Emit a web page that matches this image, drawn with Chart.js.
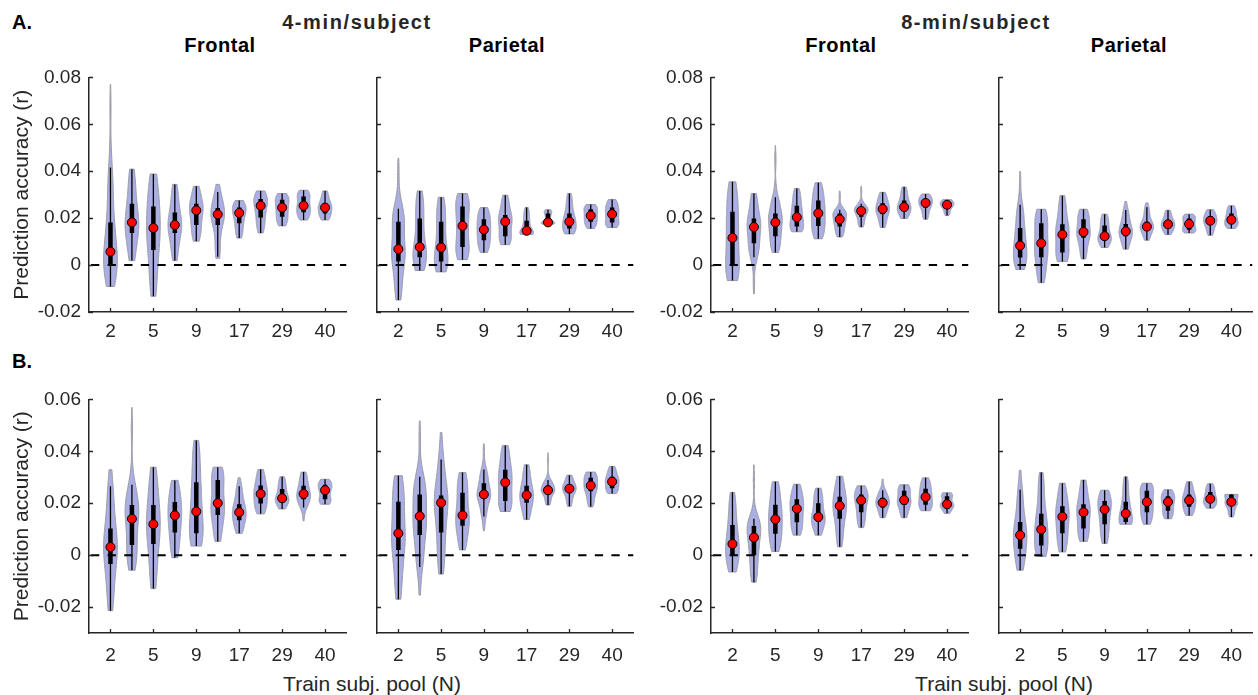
<!DOCTYPE html>
<html>
<head>
<meta charset="utf-8">
<script src="https://cdn.jsdelivr.net/npm/chart.js@4.4.1/dist/chart.umd.min.js"></script>
<style>
  html, body { margin: 0; padding: 0; background: #fff; overflow: hidden; }
  body { position: relative; width: 1258px; height: 695px; font-family: "Liberation Sans", Arial, sans-serif; color: #000; }
  canvas { position: absolute; }
  .lbl { position: absolute; white-space: nowrap; line-height: 1; }
  .panel-letter { font-size: 20px; font-weight: bold; }
  .group { font-size: 20px; font-weight: bold; letter-spacing: 1.6px; transform: translateX(-50%); color: #262626; }
  .region { font-size: 20px; font-weight: bold; letter-spacing: 0.5px; transform: translateX(-50%); }
  .xtitle { font-size: 21px; color: #262626; transform: translateX(-50%); }
</style>
</head>
<body>

<div class="lbl panel-letter" style="left:12px; top:12px;">A.</div>
<div class="lbl panel-letter" style="left:12px; top:351px;">B.</div>
<div class="lbl group" style="left:357px; top:12px;">4-min/subject</div>
<div class="lbl group" style="left:976px; top:12px;">8-min/subject</div>
<div class="lbl region" style="left:220px; top:35px;">Frontal</div>
<div class="lbl region" style="left:507px; top:35px;">Parietal</div>
<div class="lbl region" style="left:841px; top:35px;">Frontal</div>
<div class="lbl region" style="left:1129px; top:35px;">Parietal</div>
<div class="lbl xtitle" style="left:372px; top:673px;">Train subj. pool (N)</div>
<div class="lbl xtitle" style="left:1004px; top:673px;">Train subj. pool (N)</div>

<canvas id="a1"></canvas>
<canvas id="a2"></canvas>
<canvas id="a3"></canvas>
<canvas id="a4"></canvas>
<canvas id="b1"></canvas>
<canvas id="b2"></canvas>
<canvas id="b3"></canvas>
<canvas id="b4"></canvas>

<script>
// x tick labels, one under every second violin (train pool size N)
const tickLabels = ["2", "5", "9", "17", "29", "40"];
const rowATicks = [-0.02, 0, 0.02, 0.04, 0.06, 0.08];
const rowBTicks = [-0.02, 0, 0.02, 0.04, 0.06];

// each violin: [min, whiskerLow, q1, median, q3, whiskerHigh, max]
const fourMinFrontalA = [
  [-0.0091, -0.0091, 0.0000, 0.0057, 0.0182, 0.0416, 0.0770],
  [0.0019, 0.0019, 0.0137, 0.0182, 0.0261, 0.0409, 0.0409],
  [-0.0133, -0.0133, 0.0064, 0.0158, 0.0250, 0.0388, 0.0388],
  [0.0019, 0.0019, 0.0137, 0.0171, 0.0224, 0.0344, 0.0344],
  [0.0102, 0.0102, 0.0171, 0.0233, 0.0261, 0.0336, 0.0336],
  [0.0029, 0.0035, 0.0171, 0.0216, 0.0243, 0.0312, 0.0344],
  [0.0115, 0.0115, 0.0178, 0.0222, 0.0245, 0.0275, 0.0275],
  [0.0137, 0.0137, 0.0203, 0.0253, 0.0282, 0.0316, 0.0316],
  [0.0167, 0.0167, 0.0206, 0.0245, 0.0278, 0.0305, 0.0305],
  [0.0192, 0.0192, 0.0225, 0.0253, 0.0292, 0.0319, 0.0319],
  [0.0192, 0.0192, 0.0220, 0.0245, 0.0264, 0.0316, 0.0316]
];
const fourMinParietalA = [
  [-0.0149, -0.0149, 0.0015, 0.0068, 0.0185, 0.0240, 0.0455],
  [-0.0023, -0.0023, 0.0033, 0.0077, 0.0199, 0.0316, 0.0316],
  [-0.0029, -0.0029, 0.0015, 0.0075, 0.0185, 0.0289, 0.0289],
  [0.0023, 0.0023, 0.0077, 0.0167, 0.0250, 0.0305, 0.0305],
  [0.0054, 0.0054, 0.0106, 0.0151, 0.0195, 0.0245, 0.0245],
  [0.0087, 0.0087, 0.0123, 0.0185, 0.0213, 0.0298, 0.0298],
  [0.0131, 0.0131, 0.0134, 0.0146, 0.0189, 0.0245, 0.0245],
  [0.0175, 0.0175, 0.0178, 0.0182, 0.0220, 0.0236, 0.0236],
  [0.0133, 0.0133, 0.0156, 0.0185, 0.0220, 0.0305, 0.0305],
  [0.0156, 0.0156, 0.0185, 0.0211, 0.0238, 0.0258, 0.0258],
  [0.0160, 0.0160, 0.0182, 0.0217, 0.0245, 0.0280, 0.0280]
];
const eightMinFrontalA = [
  [-0.0066, -0.0066, 0.0000, 0.0116, 0.0227, 0.0355, 0.0355],
  [-0.0123, 0.0033, 0.0093, 0.0162, 0.0199, 0.0305, 0.0305],
  [0.0054, 0.0054, 0.0123, 0.0182, 0.0220, 0.0289, 0.0510],
  [0.0142, 0.0142, 0.0164, 0.0204, 0.0253, 0.0326, 0.0326],
  [0.0112, 0.0112, 0.0167, 0.0221, 0.0275, 0.0351, 0.0351],
  [0.0120, 0.0120, 0.0164, 0.0195, 0.0220, 0.0236, 0.0316],
  [0.0162, 0.0162, 0.0206, 0.0231, 0.0240, 0.0261, 0.0337],
  [0.0160, 0.0160, 0.0217, 0.0239, 0.0264, 0.0310, 0.0310],
  [0.0199, 0.0199, 0.0231, 0.0247, 0.0275, 0.0333, 0.0333],
  [0.0195, 0.0195, 0.0245, 0.0265, 0.0282, 0.0303, 0.0303],
  [0.0211, 0.0211, 0.0245, 0.0257, 0.0268, 0.0279, 0.0279]
];
const eightMinParietalA = [
  [-0.0019, -0.0019, 0.0032, 0.0083, 0.0158, 0.0257, 0.0399],
  [-0.0075, -0.0075, 0.0033, 0.0093, 0.0178, 0.0238, 0.0238],
  [0.0015, 0.0015, 0.0054, 0.0130, 0.0174, 0.0296, 0.0296],
  [0.0026, 0.0026, 0.0116, 0.0141, 0.0195, 0.0238, 0.0238],
  [0.0075, 0.0075, 0.0109, 0.0123, 0.0169, 0.0217, 0.0217],
  [0.0068, 0.0068, 0.0123, 0.0144, 0.0175, 0.0235, 0.0271],
  [0.0106, 0.0106, 0.0151, 0.0164, 0.0185, 0.0247, 0.0265],
  [0.0130, 0.0130, 0.0158, 0.0174, 0.0192, 0.0234, 0.0234],
  [0.0137, 0.0137, 0.0151, 0.0175, 0.0199, 0.0217, 0.0217],
  [0.0127, 0.0127, 0.0171, 0.0189, 0.0209, 0.0236, 0.0236],
  [0.0156, 0.0156, 0.0175, 0.0193, 0.0220, 0.0253, 0.0253]
];
const fourMinFrontalB = [
  [-0.0214, -0.0214, -0.0034, 0.0031, 0.0103, 0.0265, 0.0329],
  [-0.0058, -0.0058, 0.0039, 0.0140, 0.0193, 0.0271, 0.0569],
  [-0.0129, -0.0129, 0.0043, 0.0119, 0.0193, 0.0339, 0.0339],
  [-0.0010, -0.0010, 0.0087, 0.0153, 0.0205, 0.0288, 0.0288],
  [0.0035, 0.0035, 0.0084, 0.0168, 0.0281, 0.0442, 0.0442],
  [0.0053, 0.0053, 0.0155, 0.0200, 0.0289, 0.0339, 0.0339],
  [0.0084, 0.0084, 0.0134, 0.0165, 0.0196, 0.0265, 0.0298],
  [0.0159, 0.0159, 0.0199, 0.0236, 0.0268, 0.0330, 0.0330],
  [0.0178, 0.0178, 0.0209, 0.0219, 0.0255, 0.0302, 0.0302],
  [0.0132, 0.0184, 0.0215, 0.0236, 0.0267, 0.0320, 0.0320],
  [0.0196, 0.0196, 0.0215, 0.0250, 0.0271, 0.0292, 0.0292]
];
const fourMinParietalB = [
  [-0.0170, -0.0170, 0.0020, 0.0084, 0.0206, 0.0306, 0.0306],
  [-0.0154, -0.0046, 0.0078, 0.0150, 0.0234, 0.0302, 0.0517],
  [-0.0073, -0.0073, 0.0087, 0.0202, 0.0230, 0.0368, 0.0472],
  [0.0020, 0.0020, 0.0113, 0.0153, 0.0240, 0.0318, 0.0318],
  [0.0094, 0.0149, 0.0219, 0.0234, 0.0277, 0.0330, 0.0429],
  [0.0168, 0.0168, 0.0209, 0.0280, 0.0329, 0.0422, 0.0422],
  [0.0137, 0.0137, 0.0202, 0.0231, 0.0267, 0.0348, 0.0348],
  [0.0193, 0.0193, 0.0240, 0.0250, 0.0268, 0.0289, 0.0395],
  [0.0188, 0.0188, 0.0242, 0.0256, 0.0271, 0.0308, 0.0308],
  [0.0186, 0.0186, 0.0246, 0.0268, 0.0298, 0.0320, 0.0320],
  [0.0237, 0.0237, 0.0258, 0.0283, 0.0302, 0.0342, 0.0342]
];
const eightMinFrontalB = [
  [-0.0065, -0.0065, 0.0000, 0.0043, 0.0116, 0.0242, 0.0242],
  [-0.0104, -0.0104, 0.0000, 0.0068, 0.0112, 0.0140, 0.0348],
  [0.0014, 0.0014, 0.0082, 0.0138, 0.0194, 0.0283, 0.0283],
  [0.0077, 0.0077, 0.0127, 0.0179, 0.0215, 0.0273, 0.0273],
  [0.0077, 0.0077, 0.0128, 0.0147, 0.0200, 0.0258, 0.0258],
  [0.0032, 0.0032, 0.0140, 0.0190, 0.0225, 0.0304, 0.0304],
  [0.0106, 0.0106, 0.0165, 0.0211, 0.0234, 0.0267, 0.0267],
  [0.0144, 0.0144, 0.0184, 0.0202, 0.0221, 0.0250, 0.0293],
  [0.0144, 0.0144, 0.0193, 0.0212, 0.0248, 0.0271, 0.0271],
  [0.0171, 0.0171, 0.0194, 0.0224, 0.0256, 0.0298, 0.0298],
  [0.0161, 0.0161, 0.0188, 0.0196, 0.0227, 0.0240, 0.0240]
];
const eightMinParietalB = [
  [-0.0058, -0.0058, 0.0025, 0.0077, 0.0128, 0.0252, 0.0327],
  [-0.0005, -0.0005, 0.0037, 0.0099, 0.0159, 0.0318, 0.0318],
  [0.0012, 0.0012, 0.0084, 0.0148, 0.0188, 0.0277, 0.0277],
  [0.0053, 0.0053, 0.0103, 0.0165, 0.0196, 0.0289, 0.0289],
  [0.0045, 0.0045, 0.0119, 0.0176, 0.0209, 0.0250, 0.0250],
  [0.0119, 0.0119, 0.0128, 0.0160, 0.0206, 0.0302, 0.0302],
  [0.0119, 0.0119, 0.0165, 0.0205, 0.0248, 0.0277, 0.0277],
  [0.0140, 0.0140, 0.0171, 0.0205, 0.0227, 0.0252, 0.0252],
  [0.0153, 0.0153, 0.0186, 0.0211, 0.0234, 0.0283, 0.0283],
  [0.0181, 0.0181, 0.0202, 0.0217, 0.0243, 0.0275, 0.0275],
  [0.0147, 0.0147, 0.0193, 0.0205, 0.0234, 0.0234, 0.0234]
];

const FONT = "'Liberation Sans', Arial, sans-serif";
const AXIS_COLOR = "#262626";
const VIOLIN_FILL = "#aaaee2";
const VIOLIN_EDGE = "#9a9aa4";
const HALF_WIDTH = 0.32; // in x units (one unit = spacing between violins)

// quantile curve through the summary points, used to shape the violin outline
function quantileAt(v, p) {
  const ps = [0, v[1] > v[0] ? 0.03 : 0, 0.25, 0.5, 0.75, v[6] > v[5] ? 0.97 : 1, 1];
  for (let k = 0; k < ps.length - 1; k++) {
    if (ps[k + 1] > ps[k] && p >= ps[k] && p <= ps[k + 1]) {
      const t = (p - ps[k]) / (ps[k + 1] - ps[k]);
      return v[k] + t * (v[k + 1] - v[k]);
    }
  }
  return v[6];
}

// gaussian kernel density over the quantile curve, evaluated from min to max
function violinProfile(v) {
  const n = 60;
  const pts = [];
  for (let k = 0; k < n; k++) pts.push(quantileAt(v, (k + 0.5) / n));
  const mean = pts.reduce((a, b) => a + b, 0) / n;
  const sd = Math.sqrt(pts.reduce((a, b) => a + (b - mean) * (b - mean), 0) / n);
  const iqr = v[4] - v[2];
  let h = 0.9 * Math.min(sd, iqr > 0 ? iqr / 1.34 : sd) * Math.pow(n, -0.2);
  h = Math.max(h, (v[5] - v[1]) * 0.13, 1e-4);
  const steps = 100;
  const out = [];
  let peak = 0;
  for (let s = 0; s <= steps; s++) {
    const yv = v[0] + (v[6] - v[0]) * s / steps;
    let d = 0;
    for (const p of pts) {
      const z = (yv - p) / h;
      d += Math.exp(-0.5 * z * z);
    }
    out.push([yv, d]);
    peak = Math.max(peak, d);
  }
  // soften the peak a little so the bodies stay full
  return out.map(([yv, d]) => [yv, Math.pow(d / peak, 0.75)]);
}

const violinPlugin = {
  id: "violins",
  beforeDatasetsDraw(chart, args, opts) {
    const { ctx, chartArea } = chart;
    const x = chart.scales.x, y = chart.scales.y;
    ctx.save();
    ctx.beginPath();
    ctx.rect(chartArea.left, chartArea.top, chartArea.width, chartArea.height);
    ctx.clip();

    opts.rows.forEach((v, i) => {
      const cx = x.getPixelForValue(i);
      const hw = x.getPixelForValue(i + HALF_WIDTH) - cx;
      const prof = violinProfile(v);

      // body
      ctx.beginPath();
      prof.forEach(([yv, d], k) => {
        const px = cx + d * hw, py = y.getPixelForValue(yv);
        if (k === 0) ctx.moveTo(px, py); else ctx.lineTo(px, py);
      });
      for (let k = prof.length - 1; k >= 0; k--) {
        ctx.lineTo(cx - prof[k][1] * hw, y.getPixelForValue(prof[k][0]));
      }
      ctx.closePath();
      ctx.fillStyle = VIOLIN_FILL;
      ctx.fill();
      ctx.lineWidth = 1;
      ctx.strokeStyle = VIOLIN_EDGE;
      ctx.stroke();

      // whisker
      ctx.beginPath();
      ctx.moveTo(cx, y.getPixelForValue(v[1]));
      ctx.lineTo(cx, y.getPixelForValue(v[5]));
      ctx.lineWidth = 1.3;
      ctx.strokeStyle = "#000";
      ctx.stroke();

      // interquartile box
      ctx.beginPath();
      ctx.moveTo(cx, y.getPixelForValue(v[2]));
      ctx.lineTo(cx, y.getPixelForValue(v[4]));
      ctx.lineWidth = 4.5;
      ctx.stroke();
    });

    // zero reference
    const y0 = y.getPixelForValue(0);
    ctx.beginPath();
    ctx.setLineDash([8.3, 8.3]);
    ctx.moveTo(chartArea.left + 2, y0);
    ctx.lineTo(chartArea.right, y0);
    ctx.lineWidth = 2;
    ctx.strokeStyle = "#000";
    ctx.stroke();
    ctx.restore();
  },
  afterDraw(chart) {
    // inward tick marks
    const { ctx, chartArea } = chart;
    const x = chart.scales.x, y = chart.scales.y;
    ctx.save();
    ctx.strokeStyle = AXIS_COLOR;
    ctx.lineWidth = 1.3;
    ctx.beginPath();
    y.ticks.forEach(t => {
      const py = Math.round(y.getPixelForValue(t.value)) + 0.5;
      ctx.moveTo(chartArea.left, py);
      ctx.lineTo(chartArea.left + 4, py);
    });
    x.ticks.forEach(t => {
      const px = Math.round(x.getPixelForValue(t.value)) + 0.5;
      ctx.moveTo(px, chartArea.bottom);
      ctx.lineTo(px, chartArea.bottom - 4);
    });
    ctx.stroke();
    ctx.restore();
  }
};

function makePanel(id, rows, opt) {
  const canvas = document.getElementById(id);
  const width = opt.yAxisWidth + (opt.plotRight - opt.plotLeft) + opt.padRight;
  const height = 12 + (opt.plotBottom - opt.plotTop) + 35;
  canvas.width = width;
  canvas.height = height;
  canvas.style.left = (opt.plotLeft - opt.yAxisWidth) + "px";
  canvas.style.top = (opt.plotTop - 12) + "px";

  new Chart(canvas.getContext("2d"), {
    type: "scatter",
    data: {
      datasets: [{
        data: rows.map((v, i) => ({ x: i, y: v[3] })),
        pointRadius: 4.5,
        pointHoverRadius: 4.5,
        backgroundColor: "#ff0000",
        borderColor: "#000",
        borderWidth: 1
      }]
    },
    options: {
      responsive: false,
      animation: false,
      events: [],
      layout: { padding: { top: 12, right: opt.padRight, left: 0, bottom: 0 } },
      plugins: {
        legend: { display: false },
        tooltip: { enabled: false },
        violins: { rows: rows }
      },
      scales: {
        x: {
          type: "linear",
          min: -1,
          max: rows.length,
          afterBuildTicks: s => { s.ticks = tickLabels.map((_, k) => ({ value: 2 * k })); },
          afterFit: s => { s.height = 35; },
          grid: { display: false, drawTicks: false },
          border: { display: true, color: AXIS_COLOR, width: 1.5 },
          ticks: {
            callback: (val, index) => tickLabels[index],
            font: { family: FONT, size: 19 },
            color: AXIS_COLOR,
            padding: opt.xPad,
            maxRotation: 0,
            autoSkip: false
          }
        },
        y: {
          min: opt.yMin,
          max: opt.yMax,
          afterBuildTicks: s => { s.ticks = opt.yTicks.map(v => ({ value: v })); },
          afterFit: s => { s.width = opt.yAxisWidth; },
          grid: { display: false, drawTicks: false },
          border: { display: true, color: AXIS_COLOR, width: 1.5 },
          ticks: {
            // unlabelled panels keep the same label metrics so every plot area lines up
            callback: v => (v === 0 ? "0" : v.toFixed(2)),
            font: { family: FONT, size: 19 },
            color: opt.showYLabels ? AXIS_COLOR : "rgba(0,0,0,0)",
            padding: 8
          },
          title: {
            display: opt.showTitle,
            text: "Prediction accuracy (r)",
            font: { family: FONT, size: 21 },
            color: AXIS_COLOR,
            padding: { top: 10, bottom: 0 }
          }
        }
      }
    },
    plugins: [violinPlugin]
  });
}

const rowA = { plotTop: 70, plotBottom: 312, yMin: -0.02, yMax: 0.08, yTicks: rowATicks, xPad: 8 };
const rowB = { plotTop: 392, plotBottom: 633, yMin: -0.03, yMax: 0.06, yTicks: rowBTicks, xPad: 11 };
const col1 = { plotLeft: 89, plotRight: 350, yAxisWidth: 89, padRight: 2, showYLabels: true, showTitle: true };
const col2 = { plotLeft: 377, plotRight: 637, yAxisWidth: 6, padRight: 2, showYLabels: false, showTitle: false };
const col3 = { plotLeft: 711, plotRight: 972, yAxisWidth: 60, padRight: 2, showYLabels: true, showTitle: false };
const col4 = { plotLeft: 999, plotRight: 1258, yAxisWidth: 6, padRight: 0, showYLabels: false, showTitle: false };

makePanel("a1", fourMinFrontalA, { ...rowA, ...col1 });
makePanel("a2", fourMinParietalA, { ...rowA, ...col2 });
makePanel("a3", eightMinFrontalA, { ...rowA, ...col3 });
makePanel("a4", eightMinParietalA, { ...rowA, ...col4 });
makePanel("b1", fourMinFrontalB, { ...rowB, ...col1 });
makePanel("b2", fourMinParietalB, { ...rowB, ...col2 });
makePanel("b3", eightMinFrontalB, { ...rowB, ...col3 });
makePanel("b4", eightMinParietalB, { ...rowB, ...col4 });
</script>
</body>
</html>
